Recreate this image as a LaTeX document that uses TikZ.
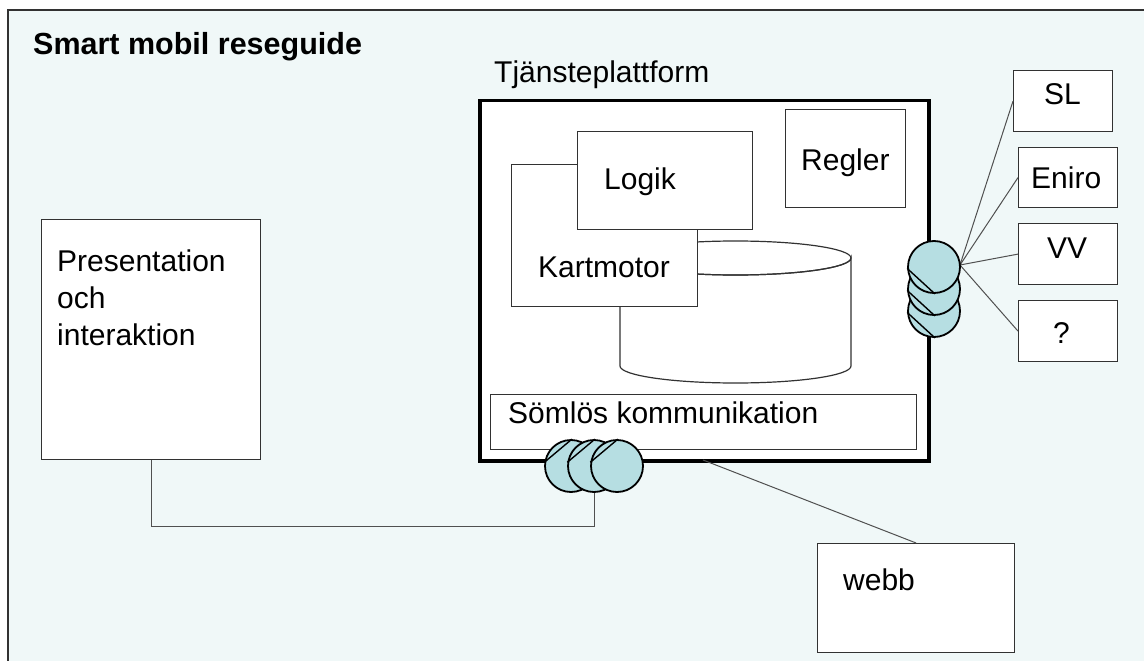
\documentclass[tikz,border=0pt]{standalone}
\usepackage{fontspec}
\setmainfont{Liberation Sans}
\usetikzlibrary{calc}
\definecolor{bgcyan}{RGB}{240,248,248}
\definecolor{conncol}{RGB}{182,222,226}
\definecolor{edge}{RGB}{50,50,50}
\definecolor{wire}{RGB}{80,80,80}
\tikzset{
  box/.style={draw=edge, line width=1.2pt, fill=white, rectangle, inner sep=0pt, anchor=north west},
  platbox/.style={draw=black, line width=3.5pt, fill=white, rectangle, inner sep=0pt, anchor=north west},
  lbl/.style={anchor=base west, inner sep=0pt, font=\fontsize{30}{37}\selectfont},
  titlelbl/.style={anchor=base west, inner sep=0pt, font=\fontsize{30.5}{35}\selectfont\bfseries},
  conn/.style={circle, draw=black, line width=1.8pt, fill=conncol, minimum size=52pt, inner sep=0pt},
  hatch/.style={draw=black, line width=1.4pt},
  wireline/.style={draw=wire, line width=1pt},
}
\begin{document}
\begin{tikzpicture}[x=1pt,y=-1pt]
\useasboundingbox (0,0) rectangle (1144,661);
\clip (0,0) rectangle (1144,661);
\fill[white] (0,0) rectangle (1144,661);
% frame
\draw[draw=edge, line width=1.5pt, fill=bgcyan] (8,10) rectangle (1160,680);
\node[titlelbl] (title) at (33,55) {Smart mobil reseguide};
\node[lbl] (tjlbl) at (494,83) {Tjänsteplattform};

% presentation box
\node[box, minimum width=219pt, minimum height=240pt] (pres) at (41,219) {};
\node[lbl, align=left, anchor=north west] (preslbl) at (57,250) {Presentation\\och\\interaktion};

% platform
\node[platbox, minimum width=449pt, minimum height=360pt] (plat) at (478,99) {};

% Regler
\node[box, minimum width=120pt, minimum height=98pt] (regler) at (785,109) {};
\node[lbl] (reglerlbl) at (801,170) {Regler};

% cylinder (database)
\filldraw[draw=edge, line width=1.2pt, fill=white]
  (620,258) -- (620,366) arc[start angle=180, end angle=360, x radius=115.5pt, y radius=17pt]
  -- (851,258) arc[start angle=0, end angle=-180, x radius=115.5pt, y radius=17pt] -- cycle;
\draw[draw=edge, line width=1.2pt] (735.5,258) ellipse[x radius=115.5pt, y radius=17pt];

% Kartmotor
\node[box, minimum width=186pt, minimum height=142pt] (kart) at (511,164) {};
\node[lbl] (kartlbl) at (538,277) {Kartmotor};

% Logik
\node[box, minimum width=175pt, minimum height=98pt] (logik) at (577,131) {};
\node[lbl] (logiklbl) at (604,189) {Logik};

% Sömlös kommunikation
\node[box, minimum width=426pt, minimum height=55pt] (soml) at (490,394) {};
\node[lbl] (somllbl) at (508,423) {Sömlös kommunikation};

% external boxes
\node[box, minimum width=99pt, minimum height=61pt] (sl) at (1013,70) {};
\node[lbl] (sllbl) at (1044,105) {SL};
\node[box, minimum width=99pt, minimum height=60pt] (eniro) at (1018,147) {};
\node[lbl] (enirolbl) at (1031,188) {Eniro};
\node[box, minimum width=99pt, minimum height=61pt] (vv) at (1018,223) {};
\node[lbl] (vvlbl) at (1047,258) {VV};
\node[box, minimum width=99pt, minimum height=61pt] (q) at (1018,300) {};
\node[lbl] (qlbl) at (1053,343) {?};

% webb
\node[box, minimum width=197pt, minimum height=109pt] (webb) at (817,543) {};
\node[lbl] (webblbl) at (843,590) {webb};

% connector positions
\coordinate (bc1) at (571,466);
\coordinate (bc2) at (594,466);
\coordinate (bc3) at (617,466);
\coordinate (rc1) at (934,267);
\coordinate (rc2) at (934,289);
\coordinate (rc3) at (934,311);
\coordinate (platw) at (703,460);
\coordinate (rout) at (960,265);

% wires (behind circles)
\draw[wireline] (pres.south) -- ++(0,66) -| (bc2);
\draw[wireline] (platw) -- (webb.north);
\draw[wireline] (rout) -- (sl.west);
\draw[wireline] (rout) -- (eniro.west);
\draw[wireline] (rout) -- (vv.west);
\draw[wireline] (rout) -- (q.west);

% bottom connectors
\node[conn] (b1) at (bc1) {};
\draw[hatch] (b1.172) -- (b1.88);
\node[conn] (b2) at (bc2) {};
\draw[hatch] (b2.172) -- (b2.88);
\node[conn] (b3) at (bc3) {};
\draw[hatch] (b3.172) -- (b3.88);

% right connectors
\node[conn] (r3) at (rc3) {};
\draw[hatch] (r3.183) -- (r3.272);
\node[conn] (r2) at (rc2) {};
\draw[hatch] (r2.183) -- (r2.272);
\node[conn] (r1) at (rc1) {};
\draw[hatch] (r1.183) -- (r1.272);
\end{tikzpicture}
\end{document}
